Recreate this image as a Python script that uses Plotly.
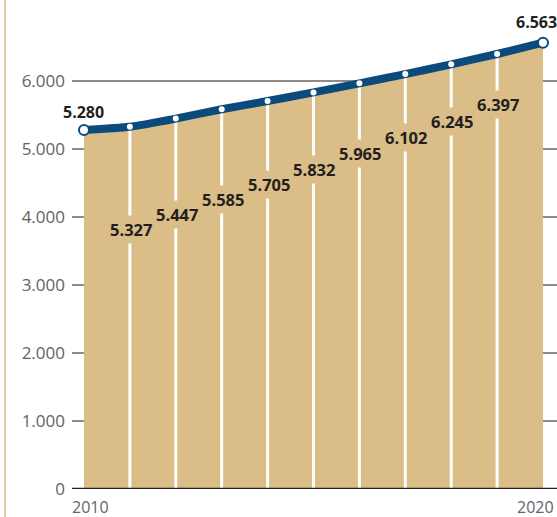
import plotly.graph_objects as go

years = [2010, 2011, 2012, 2013, 2014, 2015, 2016, 2017, 2018, 2019, 2020]
values = [5280, 5327, 5447, 5585, 5705, 5832, 5965, 6102, 6245, 6397, 6563]
y_tick_vals = [0, 1000, 2000, 3000, 4000, 5000, 6000]
y_tick_labels = ["0", "1.000", "2.000", "3.000", "4.000", "5.000", "6.000"]
x_tick_vals = [2010, 2020]
x_tick_labels = ["2010", "2020"]

TAN = "#dbbd87"
NAVY = "#0b4a7c"
DARK = "#231f20"
GRAY_TXT = "#636363"
FONT = "Open Sans"


def fmt(v):
    return f"{v:,}".replace(",", ".")


fig = go.Figure()

# area
fig.add_trace(go.Scatter(
    x=years, y=values, mode="lines", fill="tozeroy", fillcolor=TAN,
    line=dict(width=0, shape="spline", smoothing=0.6, color=TAN),
    hoverinfo="skip", showlegend=False))

# white drop lines for intermediate years
lx, ly = [], []
for x, v in zip(years[1:-1], values[1:-1]):
    lx += [x, x, None]
    ly += [0, v, None]
fig.add_trace(go.Scatter(x=lx, y=ly, mode="lines",
                         line=dict(color="white", width=3),
                         hoverinfo="skip", showlegend=False))

# blue line
fig.add_trace(go.Scatter(
    x=years, y=values, mode="lines",
    line=dict(color=NAVY, width=8, shape="spline", smoothing=0.6),
    hoverinfo="skip", showlegend=False))

# intermediate markers
fig.add_trace(go.Scatter(
    x=years[1:-1], y=values[1:-1], mode="markers",
    marker=dict(color="white", size=6),
    hoverinfo="skip", showlegend=False))

# end markers
fig.add_trace(go.Scatter(
    x=[years[0], years[-1]], y=[values[0], values[-1]], mode="markers",
    marker=dict(color="white", size=10, line=dict(color=NAVY, width=2)),
    hoverinfo="skip", showlegend=False))

annotations = []
n = len(years)
for i, (x, v) in enumerate(zip(years, values)):
    if i == 0:
        annotations.append(dict(x=x, y=v, text=f"<b>{fmt(v)}</b>", showarrow=False,
                                xanchor="center", yanchor="middle", yshift=18,
                                font=dict(family=FONT, size=16, color=DARK)))
    elif i == n - 1:
        annotations.append(dict(x=x, y=v, text=f"<b>{fmt(v)}</b>", showarrow=False,
                                xanchor="center", yanchor="middle", yshift=21, xshift=-7,
                                font=dict(family=FONT, size=16, color=DARK)))
    else:
        annotations.append(dict(x=x, y=v, text=f"<b>{fmt(v)}</b>", showarrow=False,
                                xanchor="center", yanchor="middle",
                                yshift=-(103 - 6.6 * (i - 1)), xshift=1,
                                bgcolor=TAN, borderpad=2,
                                font=dict(family=FONT, size=16.5, color=DARK)))

for xv, lab in zip(x_tick_vals, x_tick_labels):
    first = xv == x_tick_vals[0]
    annotations.append(dict(x=xv, y=0, yref="y", text=lab, showarrow=False,
                            xanchor="left" if first else "right",
                            xshift=-14 if first else 13,
                            yanchor="top", yshift=-5,
                            font=dict(family=FONT, size=16, color=GRAY_TXT)))

fig.update_layout(
    width=557, height=517,
    margin=dict(l=72, r=0, t=0, b=28),
    paper_bgcolor="white", plot_bgcolor="white",
    annotations=annotations,
    hovermode=False,
    shapes=[
        dict(type="line", xref="paper", yref="paper", x0=-0.138, x1=-0.138,
             y0=-1, y1=2, line=dict(color="#d9bd8b", width=1.5)),
        dict(type="line", xref="paper", yref="y", x0=0, x1=1, y0=0, y1=0,
             line=dict(color=DARK, width=2.5), layer="above"),
    ],
    xaxis=dict(range=[2009.739, 2020.305], showgrid=False, zeroline=False,
               showticklabels=False, ticks="", fixedrange=True),
    yaxis=dict(range=[0, 7191], tickvals=y_tick_vals, ticktext=y_tick_labels,
               showgrid=True, gridcolor="#8c8c8c", gridwidth=2,
               zeroline=False, ticks="", ticklabelstandoff=6, fixedrange=True,
               tickfont=dict(family=FONT, size=17, color=GRAY_TXT)),
)

fig.write_html(
    "out.html",
    config={"displayModeBar": False, "staticPlot": True},
    post_script="document.body.style.margin='0';document.body.style.padding='0';"
                "document.body.style.overflow='hidden';",
)
